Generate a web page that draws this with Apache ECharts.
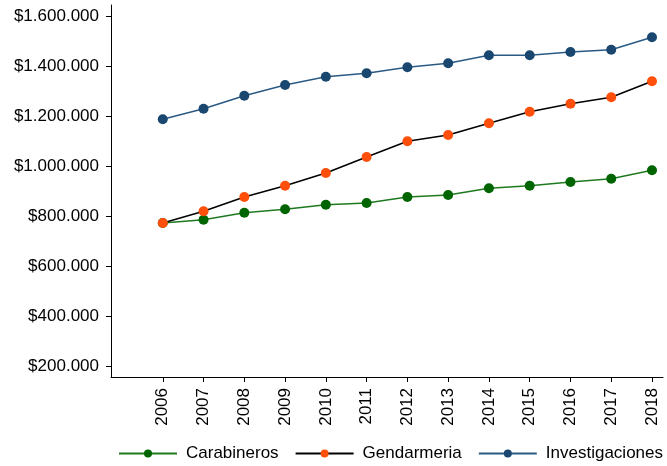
<!DOCTYPE html>
<html>
<head>
<meta charset="utf-8">
<script src="https://cdn.jsdelivr.net/npm/echarts@6/dist/echarts.min.js"></script>
<style>
html,body{margin:0;padding:0;background:#fff;}
#chart{width:667px;height:466px;}
</style>
</head>
<body>
<div id="chart"></div>
<script>
var years = [2006, 2007, 2008, 2009, 2010, 2011, 2012, 2013, 2014, 2015, 2016, 2017, 2018];
var carabineros = [772000, 785000, 813000, 827000, 845000, 852000, 876000, 884000, 911000, 921000, 936000, 949000, 983000];
var gendarmeria = [772000, 819000, 876000, 921000, 972000, 1036000, 1099000, 1124000, 1171000, 1217000, 1249000, 1275000, 1339000];
var investigaciones = [1187000, 1229000, 1281000, 1324000, 1357000, 1371000, 1395000, 1411000, 1443000, 1443000, 1456000, 1465000, 1515000];
var yTicks = [200000, 400000, 600000, 800000, 1000000, 1200000, 1400000, 1600000];

function pairs(vals) {
  return years.map(function (y, i) { return [y, vals[i]]; });
}
function money(v) {
  var s = String(Math.round(v));
  return '$' + s.replace(/\B(?=(\d{3})+(?!\d))/g, '.');
}

var FONT = 'Liberation Sans, Arial, sans-serif';
var FS = 17;

var chart = echarts.init(document.getElementById('chart'), null, {renderer: 'canvas'});
chart.setOption({
  animation: false,
  backgroundColor: '#fff',
  textStyle: {fontFamily: FONT},
  grid: {left: 111, right: 4, top: 5, bottom: 89, containLabel: false},
  xAxis: {
    type: 'value',
    min: 2004.73,
    max: 2018.27,
    axisLine: {show: true, lineStyle: {color: '#000', width: 1}},
    axisTick: {show: true, length: 5, customValues: years, lineStyle: {color: '#000'}},
    axisLabel: {
      customValues: years,
      rotate: 90,
      margin: 11,
      color: '#000',
      fontSize: FS,
      fontFamily: FONT,
      formatter: function (v) { return String(v); }
    },
    splitLine: {show: false}
  },
  yAxis: {
    type: 'value',
    min: 156000,
    max: 1644000,
    axisLine: {show: true, lineStyle: {color: '#000', width: 1}},
    axisTick: {show: true, length: 5, customValues: yTicks, lineStyle: {color: '#000'}},
    axisLabel: {
      customValues: yTicks,
      margin: 12,
      color: '#000',
      fontSize: FS,
      fontFamily: FONT,
      formatter: money
    },
    splitLine: {show: false}
  },
  legend: {
    left: 118,
    top: 445,
    padding: 0,
    itemWidth: 58,
    itemHeight: 10,
    itemGap: 16,
    textStyle: {fontSize: FS, fontFamily: FONT, color: '#000', padding: [0, 0, 0, 4]},
    data: ['Carabineros', 'Gendarmeria', 'Investigaciones']
  },
  series: [
    {
      name: 'Carabineros',
      type: 'line',
      data: pairs(carabineros),
      symbol: 'circle',
      symbolSize: 10,
      showAllSymbol: true,
      lineStyle: {color: '#1f7a1f', width: 1.5},
      itemStyle: {color: '#006400'}
    },
    {
      name: 'Gendarmeria',
      type: 'line',
      data: pairs(gendarmeria),
      symbol: 'circle',
      symbolSize: 10,
      showAllSymbol: true,
      lineStyle: {color: '#000', width: 1.5},
      itemStyle: {color: '#ff4f0a'}
    },
    {
      name: 'Investigaciones',
      type: 'line',
      data: pairs(investigaciones),
      symbol: 'circle',
      symbolSize: 10,
      showAllSymbol: true,
      lineStyle: {color: '#2a5a84', width: 1.5},
      itemStyle: {color: '#1a476f'}
    }
  ]
});
</script>
</body>
</html>
